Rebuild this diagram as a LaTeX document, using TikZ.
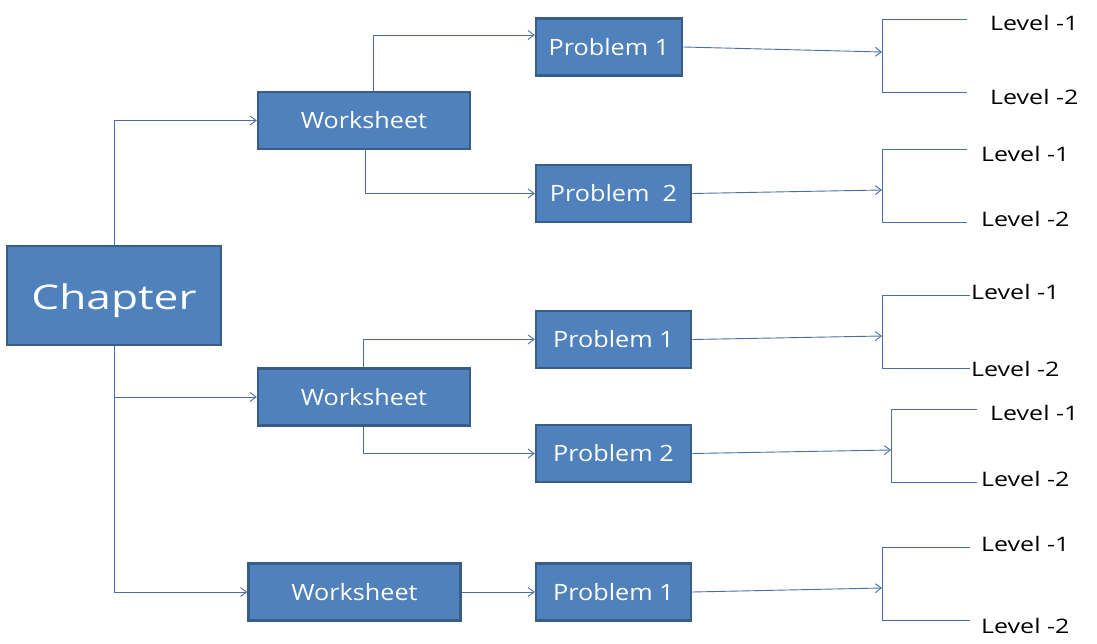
\documentclass[tikz,border=0pt]{standalone}
\usepackage{fontspec}
\setmainfont{Open Sans}
\newfontfamily\boxfont[FakeStretch=1.12]{Open Sans}
\newfontfamily\chapfont[FakeStretch=1.3]{Open Sans}
\newfontfamily\levfont[FakeStretch=1.25]{Open Sans}
\usetikzlibrary{arrows.meta}
\definecolor{boxfill}{HTML}{4F81BD}
\definecolor{boxline}{HTML}{385D8A}
\definecolor{conn}{HTML}{4A6FA5}
\tikzset{
  blockbox/.style={draw=boxline, fill=boxfill, line width=2.5pt, text=white, inner sep=0pt,
    font=\boxfont\fontsize{22.5}{26}\selectfont},
  conline/.style={draw=conn, line width=0.9pt},
  conarrow/.style={conline, -{Straight Barb[length=6pt,width=9pt]}},
  leveltext/.style={anchor=west, inner sep=0pt, text=black, font=\levfont\fontsize{20}{24}\selectfont}
}
\begin{document}
\begin{tikzpicture}[x=1pt,y=-1pt]
\useasboundingbox[fill=white] (0,0) rectangle (1097,644);
% boxes
\node[blockbox, minimum width=214pt, minimum height=99pt, text height=36pt, text depth=8pt, font=\chapfont\fontsize{34}{40}\selectfont] (ch) at (114,295.5) {Chapter};
\node[blockbox, minimum width=212pt, minimum height=57pt] (ws1) at (364,120.5) {Worksheet};
\node[blockbox, minimum width=212pt, minimum height=57pt] (ws2) at (364,397) {Worksheet};
\node[blockbox, minimum width=212pt, minimum height=57pt] (ws3) at (354.5,592) {Worksheet};
\node[blockbox, minimum width=146pt, minimum height=57pt] (p1a) at (609,47) {Problem 1};
\node[blockbox, minimum width=155pt, minimum height=57pt] (p2a) at (613.5,193.5) {Problem\ \ 2};
\node[blockbox, minimum width=155pt, minimum height=57pt] (p1b) at (613.5,339.5) {Problem 1};
\node[blockbox, minimum width=155pt, minimum height=57pt] (p2b) at (613.5,453.5) {Problem 2};
\node[blockbox, minimum width=155pt, minimum height=57pt] (p1c) at (613.5,592) {Problem 1};
% chapter connectors
\draw[conarrow] (ch.north) |- (ws1.west);
\draw[conarrow] (ch.south) |- (ws2.west);
\draw[conarrow] (ch.south) |- (ws3.west);
% worksheet connectors
\draw[conarrow] ([xshift=9pt]ws1.north) |- ([yshift=12pt]p1a.west);
\draw[conarrow] ([xshift=1pt]ws1.south) |- (p2a.west);
\draw[conarrow] ([xshift=-1pt]ws2.north) |- (p1b.west);
\draw[conarrow] ([xshift=-1pt]ws2.south) |- (p2b.west);
\draw[conarrow] (ws3.east) -- (p1c.west);
% brackets
\coordinate (a1) at (882,52);
\coordinate (a2) at (882,190);
\coordinate (a3) at (882,336);
\coordinate (a4) at (891,450);
\coordinate (a5) at (882,588);
\draw[conarrow] (p1a.east) -- (a1);
\draw[conarrow] (p2a.east) -- (a2);
\draw[conarrow] (p1b.east) -- (a3);
\draw[conarrow] (p2b.east) -- (a4);
\draw[conarrow] (p1c.east) -- (a5);
\coordinate (t1) at (967,19);  \coordinate (u1) at (967,92);
\coordinate (t2) at (967,149); \coordinate (u2) at (967,222);
\coordinate (t3) at (970,295); \coordinate (u3) at (970,368);
\coordinate (t4) at (977,409); \coordinate (u4) at (977,482);
\coordinate (t5) at (970,547); \coordinate (u5) at (970,620);
\draw[conline] (t1) -- (882,19) -- (882,92) -- (u1);
\draw[conline] (t2) -- (882,149) -- (882,222) -- (u2);
\draw[conline] (t3) -- (882,295) -- (882,368) -- (u3);
\draw[conline] (t4) -- (891,409) -- (891,482) -- (u4);
\draw[conline] (t5) -- (882,547) -- (882,620) -- (u5);
% level texts
\node[leveltext] (l11) at (990,23) {Level -1};
\node[leveltext] (l12) at (990,97) {Level -2};
\node[leveltext] (l21) at (981,154) {Level -1};
\node[leveltext] (l22) at (981,219) {Level -2};
\node[leveltext] (l31) at (971,292) {Level -1};
\node[leveltext] (l32) at (971,369) {Level -2};
\node[leveltext] (l41) at (990,413) {Level -1};
\node[leveltext] (l42) at (981,479) {Level -2};
\node[leveltext] (l51) at (981,544) {Level -1};
\node[leveltext] (l52) at (981,626) {Level -2};
\end{tikzpicture}
\end{document}
